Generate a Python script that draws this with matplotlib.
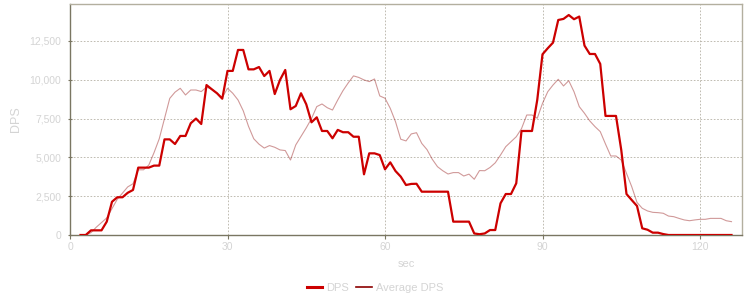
import matplotlib
matplotlib.use("Agg")
import matplotlib.pyplot as plt
from matplotlib.lines import Line2D
from matplotlib.ticker import FuncFormatter

plt.rcParams['font.family'] = ['Liberation Sans', 'DejaVu Sans']

# time in seconds
sec = list(range(2, 127))

dps = [0, 0, 300, 300, 300, 860, 2140, 2430, 2430, 2720, 2900,          # 2-12
       4340, 4340, 4340, 4470, 4470, 6160, 6160, 5860, 6380, 6380,      # 13-22
       7200, 7500, 7150, 9660, 9390, 9130, 8780, 10570, 10570, 11920,   # 23-32
       11920, 10670, 10670, 10820, 10240, 10570, 9080, 9990, 10630,     # 33-41
       8100, 8310, 9130, 8420, 7260, 7580, 6700, 6700, 6230, 6770,      # 42-51
       6620, 6620, 6330, 6330, 3910, 5260, 5260, 5150, 4230, 4680,      # 52-61
       4120, 3760, 3220, 3290, 3300, 2790, 2790, 2790, 2790, 2790,      # 62-71
       2790, 860, 860, 860, 860, 100, 50, 100, 320, 320,                # 72-81
       2040, 2640, 2640, 3330, 6700, 6700, 6700, 8700, 11640, 12030,    # 82-91
       12390, 13850, 13920, 14170, 13900, 14070, 12200, 11660, 11660,   # 92-100
       11020, 7670, 7670, 7670, 5480, 2640, 2250, 1870, 430, 340,       # 101-110
       150, 150, 60, 0, 0, 0, 0, 0, 0, 0, 0, 0, 0, 0, 0, 0]             # 111-126

avg_dps = [0, 0, 150, 500, 800, 1100, 1700, 2300, 2700, 3100, 3300,     # 2-12
           4200, 4200, 4500, 5300, 6200, 7500, 8800, 9200, 9450, 9020,  # 13-22
           9340, 9340, 9240, 9520, 9390, 9130, 8850, 9450, 9130, 8700,  # 23-32
           8000, 7000, 6200, 5850, 5600, 5760, 5650, 5480, 5440,        # 33-41
           4830, 5800, 6350, 6900, 7500, 8270, 8440, 8200, 8050, 8700,  # 42-51
           9300, 9800, 10250, 10150, 9990, 9880, 10050, 8960, 8810,     # 52-60
           8160, 7300, 6170, 6060, 6510, 6590, 5900, 5500, 4880, 4400,  # 61-70
           4140, 3930, 4020, 4020, 3800, 3920, 3590, 4150, 4140, 4350,  # 71-80
           4650, 5150, 5690, 6010, 6330, 6850, 7730, 7730, 7520, 8480,  # 81-90
           9230, 9660, 10030, 9600, 9940, 9230, 8270, 7840, 7350, 6980, # 91-100
           6660, 5860, 5090, 5090, 4830, 3970, 3110, 2100, 1720, 1550,  # 101-110
           1460, 1440, 1400, 1220, 1180, 1070, 970, 920, 970, 1010,     # 111-120
           1010, 1070, 1070, 1070, 920, 860]                            # 121-126

x_ticks = [0, 30, 60, 90, 120]
y_ticks = [0, 2500, 5000, 7500, 10000, 12500]

fig = plt.figure(figsize=(7.5, 3.0), dpi=100)
ax = fig.add_axes([70 / 750, 1 - 235 / 300, 672 / 750, 231 / 300])

dps_color = '#cc0000'
avg_color = '#8b0000'
label_color = '#d4d4d4'

ax.plot(sec, avg_dps, color=avg_color, lw=0.8, alpha=0.4, zorder=3)
ax.plot(sec, dps, color=dps_color, lw=1.6, zorder=4)

ax.set_xlim(0, 128)
ax.set_ylim(0, 14880)
ax.set_xticks(x_ticks)
ax.set_yticks(y_ticks)
ax.yaxis.set_major_formatter(FuncFormatter(lambda v, p: f"{int(v):,}"))

ax.grid(True, color='#b5b1a5', linestyle=(0, (2, 2)), linewidth=0.6)
ax.set_axisbelow(True)

for s in ['left', 'bottom']:
    ax.spines[s].set_color('#7a7662')
    ax.spines[s].set_linewidth(1.0)
for s in ['top', 'right']:
    ax.spines[s].set_color('#b3af9f')
    ax.spines[s].set_linewidth(1.0)

ax.tick_params(axis='y', length=3, direction='inout', color='#7a7662', pad=5,
               labelcolor=label_color, labelsize=7.5)
ax.tick_params(axis='x', length=3, color='#7a7662', pad=2, labelcolor=label_color, labelsize=7.5)

ax.set_ylabel('DPS', color=label_color, fontsize=9, labelpad=5)
ax.set_xlabel('sec', color=label_color, fontsize=8, labelpad=5)

handles = [Line2D([0], [0], color=dps_color, lw=2.2),
           Line2D([0], [0], color=avg_color, lw=1.2)]
leg = fig.legend(handles, ['DPS', 'Average DPS'], loc='center',
                 bbox_to_anchor=(375 / 750, 1 - 288 / 300), ncol=2, frameon=False,
                 fontsize=8, handlelength=1.4, handletextpad=0.4, columnspacing=0.6)
for t in leg.get_texts():
    t.set_color(label_color)

fig.savefig('out.png', dpi=100)
